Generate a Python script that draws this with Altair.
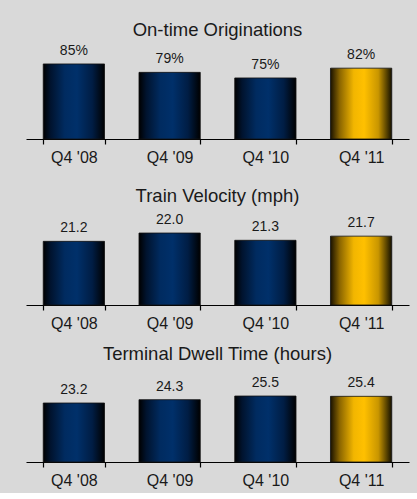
import altair as alt
import pandas as pd

categories = ["Q4 '08", "Q4 '09", "Q4 '10", "Q4 '11"]
ontime = [85, 79, 75, 82]
velocity = [21.2, 22.0, 21.3, 21.7]
dwell = [23.2, 24.3, 25.5, 25.4]
highlight = [False, False, False, True]

FONT = "Liberation Sans"

BLUE = {
    "gradient": "linear", "x1": 0, "y1": 0, "x2": 1, "y2": 0,
    "stops": [
        {"offset": 0.0, "color": "#000000"},
        {"offset": 0.12, "color": "#00132e"},
        {"offset": 0.35, "color": "#002b60"},
        {"offset": 0.55, "color": "#00306a"},
        {"offset": 0.8, "color": "#001d44"},
        {"offset": 1.0, "color": "#000000"},
    ],
}
GOLD = {
    "gradient": "linear", "x1": 0, "y1": 0, "x2": 1, "y2": 0,
    "stops": [
        {"offset": 0.0, "color": "#1a1200"},
        {"offset": 0.15, "color": "#8a6500"},
        {"offset": 0.38, "color": "#f2b600"},
        {"offset": 0.55, "color": "#ffc000"},
        {"offset": 0.78, "color": "#c99600"},
        {"offset": 1.0, "color": "#141000"},
    ],
}


def panel(title, values, label_expr, lo, pxu, h):
    df = pd.DataFrame({"cat": categories, "val": values, "hl": highlight})
    hi = lo + h / pxu
    base = alt.Chart(df).transform_calculate(lbl=label_expr).encode(
        x=alt.X(
            "cat:N",
            sort=categories,
            title=None,
            scale=alt.Scale(paddingInner=0.36, paddingOuter=0.18),
            axis=alt.Axis(labelAngle=0, ticks=True, tickBand="extent",
                          domainColor="#000000", tickColor="#000000", tickWidth=1.2,
                          tickSize=5, tickOpacity=1, labelFontSize=16, labelPadding=5,
                          labelColor="#1a1a1a", labelFont=FONT, grid=False),
        ),
        y=alt.Y("val:Q", axis=None,
                scale=alt.Scale(domain=[lo, hi], zero=False, nice=False, clamp=True)),
    )
    bars = base.mark_bar(stroke="#111111", strokeWidth=0.8).encode(
        fill=alt.condition(alt.datum.hl, alt.value(GOLD), alt.value(BLUE))
    )
    labels = base.mark_text(baseline="bottom", dy=-6, fontSize=14, font=FONT,
                            color="#1a1a1a").encode(text="lbl:N")
    return (bars + labels).properties(
        width=383, height=h,
        title=alt.TitleParams(title, fontSize=18.5, font=FONT, fontWeight="normal",
                              color="#1a1a1a", anchor="middle", offset=4),
    )


p1 = panel("On-time Originations", ontime, "datum.val + '%'", 31.4, 1.4, 88)
p2 = panel("Train Velocity (mph)", velocity, "format(datum.val, '.1f')", 15.08, 10.4, 96)
p3 = panel("Terminal Dwell Time (hours)", dwell, "format(datum.val, '.1f')", 3.8, 3.04, 95)

top = alt.vconcat(p1, p2, spacing=21)
chart = alt.vconcat(top, p3, spacing=13).properties(
    background="#d9d9d9",
    padding={"left": 26, "right": 8, "top": 21, "bottom": 5},
).configure_view(stroke=None).configure_axisBand(ticks=True, tickBand="extent")

chart.save("out.html", embed_options={"renderer": "svg", "actions": False})
